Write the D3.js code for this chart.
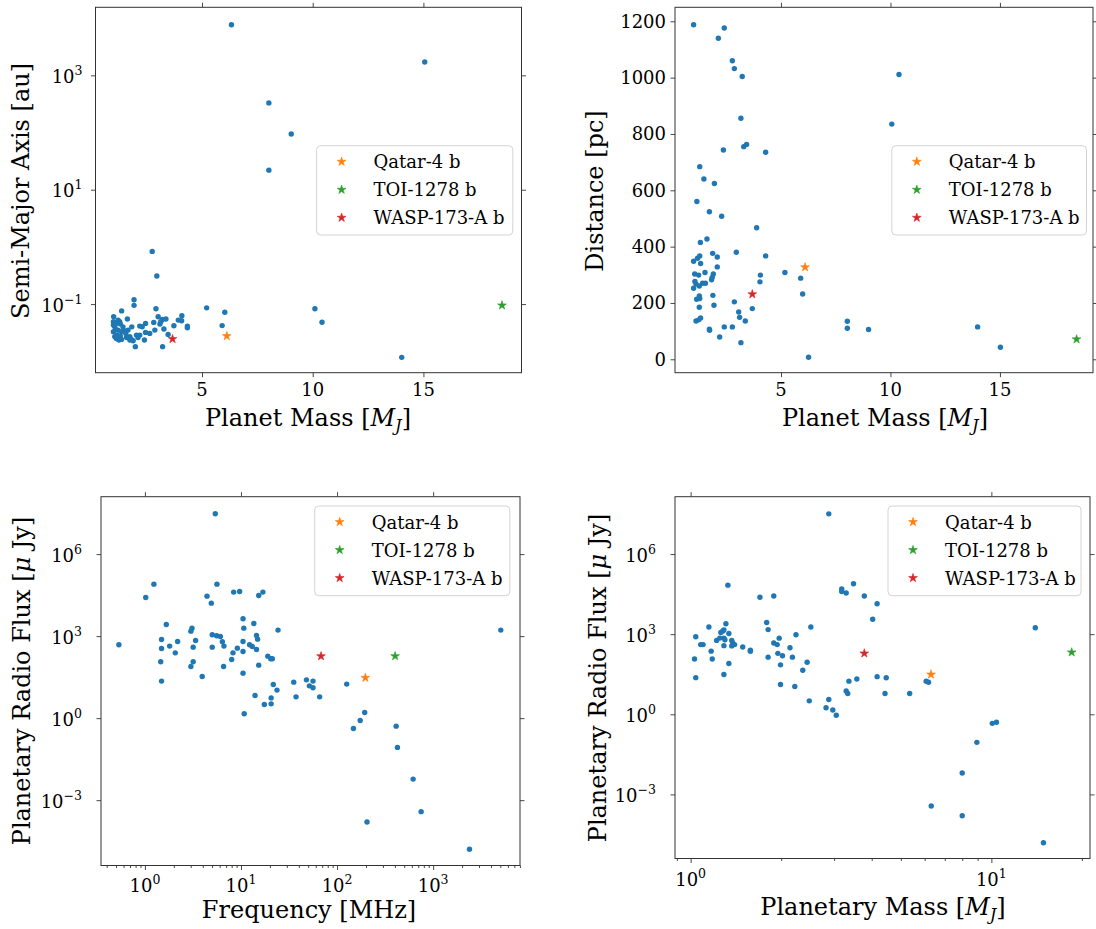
<!DOCTYPE html>
<html><head><meta charset="utf-8">
<script src="https://cdn.jsdelivr.net/npm/d3@7"></script>
<style>body{margin:0;background:#fff} svg{display:block}</style>
</head><body><svg id="c" width="1096" height="929"></svg>
<script>
// ---------- DATA ----------
const starNames = ["Qatar-4 b", "TOI-1278 b", "WASP-173-A b"];

// Panel 1: planet mass vs semi-major axis
const p1Mass = [1.01,1.00,1.00,1.06,1.13,1.21,1.28,1.31,1.10,1.21,1.36,1.51,1.06,1.13,1.25,1.36,1.16,1.31,1.37,1.63,1.83,1.59,1.74,1.81,1.89,1.99,2.11,2.04,2.19,2.30,2.45,2.45,2.40,1.93,1.93,2.75,2.96,2.92,2.82,2.87,3.10,3.21,3.37,3.28,3.47,3.22,3.73,3.93,4.09,4.08,4.34,4.34,3.14,1.74,1.43,1.56,1.66,2.19,2.64,3.02,1.00,5.21,6.03,5.91,10.10,10.42,6.33,15.06,8.02,9.03,8.02,14.02];
const p1Axis = [0.060,0.049,0.043,0.040,0.046,0.052,0.049,0.045,0.036,0.035,0.033,0.034,0.027,0.025,0.0235,0.0241,0.0287,0.0276,0.076,0.0547,0.040,0.0261,0.0269,0.0241,0.0229,0.0180,0.0261,0.0287,0.0412,0.0402,0.0459,0.0320,0.0235,0.119,0.095,0.834,0.309,0.083,0.0478,0.0351,0.0447,0.0540,0.0547,0.0366,0.0295,0.0180,0.0418,0.0525,0.0625,0.0512,0.0412,0.0385,0.0491,0.0235,0.040,0.0307,0.0351,0.0287,0.0307,0.060,0.0328,0.086,0.072,0.042,0.083,0.048,7690,1710,330,94,22,0.0117];
const p1StarMass = [6.12, 18.55, 3.67];
const p1StarAxis = [0.0276, 0.095, 0.0245];

// Panel 2: planet mass vs distance
const p2Mass = [1.01,2.41,2.14,2.78,2.87,3.23,3.17,3.30,3.43,2.37,4.30,1.29,1.48,1.96,1.16,1.73,2.29,3.89,1.62,1.32,1.88,2.09,2.96,4.30,1.01,1.19,1.29,1.33,1.06,1.24,1.53,2.09,1.91,1.86,1.83,4.06,4.04,5.18,5.90,5.99,1.01,1.12,1.27,1.42,1.55,1.07,1.15,1.29,1.27,1.27,1.89,1.94,2.87,3.07,3.11,3.37,3.69,1.12,1.24,1.33,1.73,1.74,2.41,2.78,2.20,3.17,6.26,8.03,8.03,9.0,10.06,10.39,13.98,15.02];
const p2Dist = [1188,1176,1140,1060,1032,1004,856,755,763,743,735,684,640,624,560,524,508,467,427,415,376,363,380,367,348,359,367,340,303,299,308,328,303,291,282,299,275,308,288,232,252,267,260,270,270,276,213,216,225,185,227,192,204,168,149,136,180,136,140,147,107,103,115,115,79,59,7,135,110,106,835,1011,115,43];
const p2StarMass = [6.10, 18.5, 3.69];
const p2StarDist = [327, 71, 231];

// Panel 3: frequency vs radio flux
const p3Freq = [0.536,1.02,1.24,1.67,1.49,1.49,1.46,1.49,1.81,2.07,2.19,3.01,3.09,3.37,3.18,3.18,3.01,3.95,4.43,4.91,5.62,5.02,5.58,6.10,6.40,6.65,5.02,6.59,8.0,8.26,9.16,8.39,9.68,10.5,10.7,10.5,10.5,10.5,10.8,12.3,13.1,14.5,13.6,14.5,14.9,15.3,16.9,15.3,14.0,17.5,19.0,20.4,21.2,20.6,20.6,21.7,23.7,24.3,35.4,37.4,48.0,56.2,51.5,56.2,65.9,126,194,174,148,412,425,619,750,205,2390,5.40,5060];
const p3Flux = [482,26000,79800,2670,755,354,115,22.6,431,245,638,1520,1960,693,396,115,77.6,33.4,29000,16100,79800,1120,1030,973,621,431,396,77.6,140,245,364,40700,43000,4300,1960,638,275,44.3,1.44,482,419,325,2900,1060,776,30800,40700,86.9,6.7,3.16,185,148,148,5.5,3.34,17.1,10.6,1660,20.7,6.0,25.2,22.6,15.2,12.9,6.0,17.6,1.61,0.82,0.42,0.51,0.085,0.0059,0.00038,0.000158,1.6e-5,3.0e7,1660];
const p3StarFreq = [197, 402, 68.1];
const p3StarFlux = [30, 186, 185];

// Panel 4: planetary mass vs radio flux
const p4Mass = [1.04,1.03,1.04,1.08,1.10,1.15,1.17,1.18,1.22,1.25,1.26,1.28,1.29,1.31,1.29,1.30,1.29,1.29,1.33,1.34,1.34,1.37,1.38,1.40,1.37,1.49,1.58,1.58,1.70,1.79,1.81,1.81,1.89,1.89,1.94,1.97,1.95,1.99,1.99,2.02,2.14,2.18,2.22,2.24,2.36,2.44,2.48,2.51,2.82,2.88,2.97,3.05,3.18,3.18,3.29,3.29,3.33,3.36,3.48,3.57,3.78,4.03,4.17,4.17,4.47,4.43,5.35,6.07,6.18,2.88,14.0,10.07,10.4,8.95,8.0,6.31,8.0,14.9];
const p4Flux = [798,117,23.5,406,406,1860,231,117,585,713,1150,1320,1450,2450,713,617,372,30.9,68500,1060,79.4,585,468,407,363,331,251,229,24200,2750,1480,138,26900,468,407,708,191,70.8,13.0,155,309,138,11.0,946,44.7,89.1,3.18,1860,1.76,3.56,1.45,0.92,49000,39800,34700,7.4,6.0,17.4,76700,20.9,26900,3630,13800,25.7,23.4,6.0,6.0,17.4,15.8,3.2e7,1740,0.457,0.50,0.089,0.0063,0.00037,0.000158,1.55e-5];
const p4StarMass = [6.30, 18.5, 3.78];
const p4StarFlux = [31, 209, 191];

// Tick labels
const massTicks = [5, 10, 15];
const distTicks = [0, 200, 400, 600, 800, 1000, 1200];
const p1YExps = [-1, 1, 3];
const p3XExps = [0, 1, 2, 3];
const fluxExps = [-3, 0, 3, 6];
const p4XExps = [0, 1];

// ---------- DRAWING ----------
const FONT = '"DejaVu Serif", serif';
const BLUE = "#1f77b4";
const starColors = ["#ff7f0e", "#2ca02c", "#d62728"];
const svg = d3.select("#c");
svg.append("rect").attr("width", 1096).attr("height", 929).attr("fill", "#fff");

function rich(sel, segs) {
  segs.forEach(s => {
    const ts = sel.append("tspan").text(s.t);
    if (s.i) ts.attr("font-style", "italic");
    if (s.sub) ts.attr("font-size", "0.68em").attr("dy", 5);
    if (s.back) ts.attr("dy", -5);
  });
}
function supText(sel, e) {
  sel.append("tspan").text("10");
  sel.append("tspan").attr("font-size", 12.5).attr("dy", -8).text(e < 0 ? "\u2212" + (-e) : String(e));
}
function ticks(g, fn, scale, vals, tr, size) {
  const s = g.append("g").attr("transform", tr)
    .call(fn(scale).tickValues(vals).tickSize(size).tickFormat(""));
  s.select(".domain").remove();
  s.selectAll("line").attr("stroke", "#333").attr("stroke-width", 0.9);
}

function panel(o) {
  const g = svg.append("g");
  const x = (o.xLog ? d3.scaleLog() : d3.scaleLinear()).domain(o.xd).range([o.l, o.r]);
  const y = (o.yLog ? d3.scaleLog() : d3.scaleLinear()).domain(o.yd).range([o.b, o.t]);
  const xv = o.xLog ? o.xTicks.map(e => Math.pow(10, e)) : o.xTicks;
  const yv = o.yLog ? o.yTicks.map(e => Math.pow(10, e)) : o.yTicks;
  const TL = 4.5;
  ticks(g, d3.axisBottom, x, xv, `translate(0,${o.b})`, TL);
  ticks(g, d3.axisTop, x, xv, `translate(0,${o.t})`, TL);
  ticks(g, d3.axisLeft, y, yv, `translate(${o.l},0)`, TL);
  ticks(g, d3.axisRight, y, yv, `translate(${o.r},0)`, TL);
  if (o.xLog) {
    const minor = x.ticks().filter(v => Math.abs(Math.log10(v) - Math.round(Math.log10(v))) > 1e-6);
    ticks(g, d3.axisBottom, x, minor, `translate(0,${o.b})`, 2.5);
  }
  // frame
  g.append("rect").attr("x", o.l).attr("y", o.t).attr("width", o.r - o.l).attr("height", o.b - o.t)
    .attr("fill", "none").attr("stroke", "#333").attr("stroke-width", 1);

  // x tick labels
  o.xTicks.forEach((v, i) => {
    const t = g.append("text").attr("x", x(xv[i])).attr("y", o.b + o.xlabOff)
      .attr("text-anchor", "middle").attr("font-family", FONT).attr("font-size", 18);
    if (o.xLog) supText(t, v); else t.text(v);
  });
  // y tick labels
  o.yTicks.forEach((v, i) => {
    const t = g.append("text").attr("x", o.l - o.yGap).attr("y", y(yv[i]) + (o.yLog ? 7.5 : 6.5))
      .attr("text-anchor", "end").attr("font-family", FONT).attr("font-size", 18);
    if (o.yLog) supText(t, v); else t.text(v);
  });

  // axis labels
  const xl = g.append("text").attr("x", o.xlab[0]).attr("y", o.xlab[1]).attr("text-anchor", "middle")
    .attr("font-family", FONT).attr("font-size", 24);
  rich(xl, o.xLabel);
  const yl = g.append("text").attr("transform", `translate(${o.ylab[0]},${o.ylab[1]}) rotate(-90)`)
    .attr("text-anchor", "middle").attr("font-family", FONT).attr("font-size", 24);
  rich(yl, o.yLabel);

  // points
  g.append("g").selectAll("circle").data(o.xs).join("circle")
    .attr("cx", (d) => x(d)).attr("cy", (d, i) => y(o.ys[i])).attr("r", 2.7).attr("fill", BLUE);
  const star = d3.symbol().type(d3.symbolStar).size(24);
  o.sx.forEach((v, i) => {
    g.append("path").attr("d", star).attr("transform", `translate(${x(v)},${y(o.sy[i])})`)
      .attr("fill", starColors[i]).attr("stroke", starColors[i]).attr("stroke-width", 0.6);
  });

  // legend
  const L = o.legend;
  g.append("rect").attr("x", L[0]).attr("y", L[1]).attr("width", L[2]).attr("height", L[3]).attr("rx", 4)
    .attr("fill", "#fff").attr("fill-opacity", 0.8).attr("stroke", "#d3d3d3").attr("stroke-width", 1);
  starNames.forEach((n, i) => {
    const cy = L[1] + 16 + i * 28;
    g.append("path").attr("d", star).attr("transform", `translate(${L[0] + 25},${cy})`)
      .attr("fill", starColors[i]).attr("stroke", starColors[i]).attr("stroke-width", 0.6);
    g.append("text").attr("x", L[0] + 57).attr("y", cy + 6.5).attr("font-family", FONT)
      .attr("font-size", 18).text(n);
  });
}

const massLabel = [{t: "Planet Mass ["}, {t: "M", i: true}, {t: "J", i: true, sub: true}, {t: "]", back: true}];
const fluxLabel = [{t: "Planetary Radio Flux ["}, {t: "\u03bc", i: true}, {t: " Jy]"}];

panel({l: 95.5, r: 521.5, t: 7.3, b: 372.7, xLog: false, xd: [0.19, 19.43], yLog: true, yd: [Math.pow(10, -2.2), Math.pow(10, 4.19)],
  xs: p1Mass, ys: p1Axis, sx: p1StarMass, sy: p1StarAxis, xTicks: massTicks, yTicks: p1YExps,
  xlabOff: 23, yGap: 13, xlab: [308, 426], ylab: [29, 191], xLabel: massLabel,
  yLabel: [{t: "Semi-Major Axis [au]"}], legend: [316.6, 145.7, 196.2, 89.3]});

panel({l: 675, r: 1093, t: 7.3, b: 372.7, xLog: false, xd: [0.16, 19.25], yLog: false, yd: [-47.6, 1249.7],
  xs: p2Mass, ys: p2Dist, sx: p2StarMass, sy: p2StarDist, xTicks: massTicks, yTicks: distTicks,
  xlabOff: 23, yGap: 9, xlab: [885, 426], ylab: [603, 191], xLabel: massLabel,
  yLabel: [{t: "Distance [pc]"}], legend: [891.8, 145.7, 194.7, 89.3]});

panel({l: 101, r: 520, t: 496.7, b: 865.5, xLog: true, xd: [Math.pow(10, -0.457), Math.pow(10, 3.904)], yLog: true, yd: [Math.pow(10, -5.39), Math.pow(10, 8.10)],
  xs: p3Freq, ys: p3Flux, sx: p3StarFreq, sy: p3StarFlux, xTicks: p3XExps, yTicks: fluxExps,
  xlabOff: 26, yGap: 19, xlab: [309, 918], ylab: [30, 681], xLabel: [{t: "Frequency [MHz]"}],
  yLabel: fluxLabel, legend: [314.7, 506, 195.1, 89.7]});

panel({l: 675, r: 1090, t: 496.7, b: 858.5, xLog: true, xd: [Math.pow(10, -0.052), Math.pow(10, 1.328)], yLog: true, yd: [Math.pow(10, -5.40), Math.pow(10, 8.147)],
  xs: p4Mass, ys: p4Flux, sx: p4StarMass, sy: p4StarFlux, xTicks: p4XExps, yTicks: fluxExps,
  xlabOff: 27, yGap: 19, xlab: [883, 915], ylab: [606, 678],
  xLabel: [{t: "Planetary Mass ["}, {t: "M", i: true}, {t: "J", i: true, sub: true}, {t: "]", back: true}],
  yLabel: fluxLabel, legend: [888, 506, 193, 89.7]});
</script></body></html>
